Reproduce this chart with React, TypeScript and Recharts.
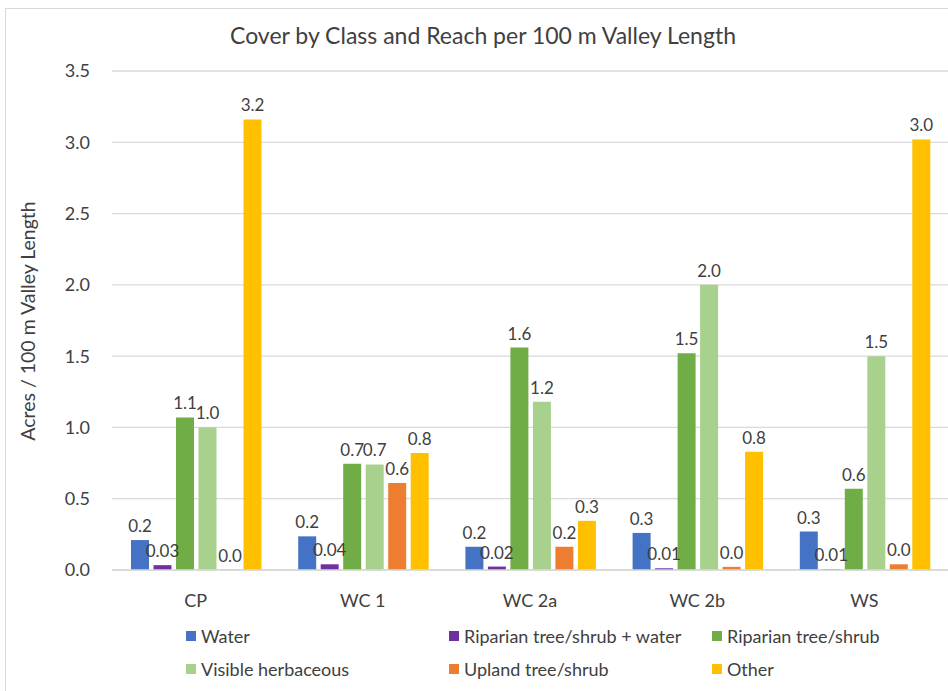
import { BarChart, Bar, XAxis, YAxis, CartesianGrid, LabelList } from 'recharts'

const categories = ['CP', 'WC 1', 'WC 2a', 'WC 2b', 'WS']
const water = [0.21, 0.236, 0.163, 0.26, 0.27]
const riparianWater = [0.034, 0.04, 0.024, 0.012, 0.005]
const riparian = [1.07, 0.745, 1.56, 1.52, 0.57]
const herbaceous = [1.0, 0.74, 1.18, 2.0, 1.5]
const upland = [0.003, 0.61, 0.163, 0.022, 0.04]
const other = [3.16, 0.82, 0.345, 0.83, 3.02]
const yTicks = [0, 0.5, 1, 1.5, 2, 2.5, 3, 3.5]

const series = [
  { key: 'water', name: 'Water', values: water, color: '#4472C4', digits: 1 },
  { key: 'ripWater', name: 'Riparian tree/shrub + water', values: riparianWater, color: '#7030A0', digits: 2 },
  { key: 'riparian', name: 'Riparian tree/shrub', values: riparian, color: '#70AD47', digits: 1 },
  { key: 'herb', name: 'Visible herbaceous', values: herbaceous, color: '#A9D18E', digits: 1 },
  { key: 'upland', name: 'Upland tree/shrub', values: upland, color: '#ED7D31', digits: 1 },
  { key: 'other', name: 'Other', values: other, color: '#FFC000', digits: 1 },
]

const chartData = categories.map((cat, i) => {
  const row: Record<string, string | number> = { cat }
  series.forEach((s) => {
    row[s.key] = s.values[i]
  })
  return row
})

const FONT = 'Lato, "Open Sans", sans-serif'
const TEXT = '#404040'

export default function App() {
  return (
    <div style={{ position: 'relative', width: 948, height: 691, overflow: 'hidden', background: '#fff', fontFamily: FONT }}>
      <style>{'body{margin:0}'}</style>
      <div
        style={{
          position: 'absolute',
          left: 5,
          top: 8,
          width: 960,
          height: 700,
          borderLeft: '1.5px solid #d9d9d9',
          borderTop: '1.5px solid #d9d9d9',
        }}
      />
      <div
        style={{
          position: 'absolute',
          left: 0,
          width: 966,
          top: 21,
          textAlign: 'center',
          fontSize: 23,
          color: TEXT,
        }}
      >
        Cover by Class and Reach per 100 m Valley Length
      </div>
      <div
        style={{
          position: 'absolute',
          left: 27,
          top: 321,
          transform: 'translate(-50%, -50%) rotate(-90deg)',
          whiteSpace: 'nowrap',
          fontSize: 19.5,
          color: TEXT,
        }}
      >
        Acres / 100 m Valley Length
      </div>
      <div style={{ position: 'absolute', left: 0, top: 0 }}>
        <BarChart
          width={948}
          height={691}
          data={chartData}
          margin={{ top: 71, right: 0, left: 0, bottom: 91 }}
          barCategoryGap={19}
          barGap={4.5}
        >
          <CartesianGrid vertical={false} stroke="#d9d9d9" strokeWidth={1.3} />
          <XAxis
            dataKey="cat"
            axisLine={{ stroke: '#d9d9d9', strokeWidth: 1.3 }}
            tickLine={false}
            tickMargin={18}
            tick={{ fontSize: 18, fill: TEXT, fontFamily: FONT }}
          />
          <YAxis
            domain={[0, 3.5]}
            ticks={yTicks}
            width={112}
            axisLine={false}
            tickLine={false}
            tickMargin={16}
            tickFormatter={(v: number) => v.toFixed(1)}
            tick={{ fontSize: 18, fill: TEXT, fontFamily: FONT }}
          />
          {series.map((s) => (
            <Bar key={s.key} dataKey={s.key} name={s.name} fill={s.color} isAnimationActive={false}>
              <LabelList
                dataKey={s.key}
                position="top"
                offset={8}
                formatter={(v: unknown) => Number(v).toFixed(s.digits)}
                style={{ fontSize: 17, fill: TEXT, fontFamily: FONT }}
              />
            </Bar>
          ))}
        </BarChart>
      </div>
      <div
        style={{
          position: 'absolute',
          left: 186,
          top: 624,
          display: 'grid',
          gridTemplateColumns: '263px 263px 263px',
          rowGap: 9,
          fontSize: 18,
          color: TEXT,
        }}
      >
        {series.map((s) => (
          <div key={s.key} style={{ display: 'flex', alignItems: 'center', height: 24 }}>
            <span style={{ width: 10, height: 10, background: s.color, marginRight: 5, display: 'inline-block' }} />
            <span>{s.name}</span>
          </div>
        ))}
      </div>
    </div>
  )
}
